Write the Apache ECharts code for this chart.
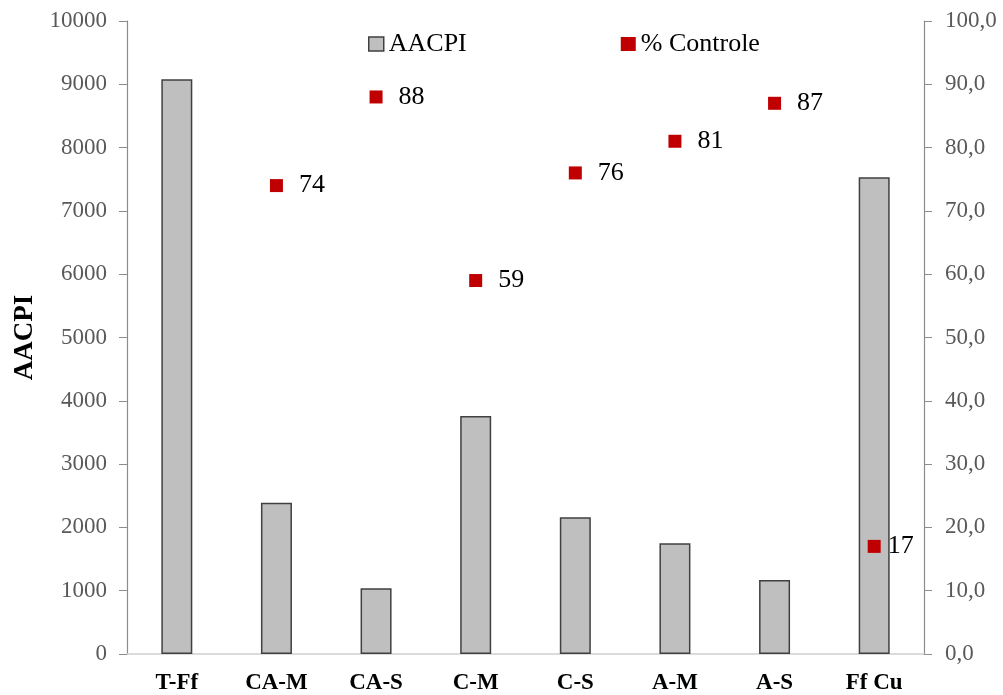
<!DOCTYPE html>
<html>
<head>
<meta charset="utf-8">
<title>AACPI e % Controle</title>
<script src="https://cdn.jsdelivr.net/npm/echarts@6/dist/echarts.min.js"></script>
<style>
  html, body { margin: 0; padding: 0; background: #fff; }
  #chart { width: 1003px; height: 695px; }
</style>
</head>
<body>
<div id="chart"></div>
<script>
// Treatments on the category axis
const categories = ['T-Ff', 'CA-M', 'CA-S', 'C-M', 'C-S', 'A-M', 'A-S', 'Ff Cu'];
// Area under the disease progress curve (left axis)
const aacpi = [9080, 2390, 1040, 3760, 2160, 1750, 1170, 7530];
// Percent control (right axis)
const controle = [null, 74, 88, 59, 76, 81, 87, 17];

const serif = '"Liberation Serif", "Times New Roman", serif';
const tickGrey = '#595959';
const axisGrey = '#8c8c8c';

// The last label sits closer to its marker, over the tall bar
const controlePoints = controle.map((v, i) =>
  i === controle.length - 1 ? { value: v, label: { distance: 7 } } : v
);

const chart = echarts.init(document.getElementById('chart'));
chart.setOption({
  animation: false,
  textStyle: { fontFamily: serif },
  grid: { left: 127, right: 79, top: 21, bottom: 41, containLabel: false },
  legend: {
    left: 363, top: 26,
    itemGap: 154,
    itemWidth: 15, itemHeight: 14,
    textStyle: { fontFamily: serif, fontSize: 26, color: '#000' },
    data: [
      { name: 'AACPI', icon: 'rect', itemStyle: { color: '#bfbfbf', borderColor: '#404040', borderWidth: 1.5 } },
      { name: '% Controle', icon: 'rect', itemStyle: { color: '#c00000', opacity: 1 } }
    ]
  },
  xAxis: {
    type: 'category',
    data: categories,
    axisLine: { lineStyle: { color: '#d0d0d0', width: 1.5 } },
    axisTick: { show: false },
    axisLabel: { fontFamily: serif, fontSize: 23, fontWeight: 'bold', color: '#000', margin: 18 }
  },
  yAxis: [
    {
      type: 'value', min: 0, max: 10000, interval: 1000,
      name: 'AACPI', nameLocation: 'middle', nameGap: 88, nameRotate: 90,
      nameTextStyle: { fontFamily: serif, fontSize: 27, fontWeight: 'bold', color: '#000' },
      axisLine: { show: true, lineStyle: { color: axisGrey, width: 1.2 } },
      axisTick: { show: true, length: 8, lineStyle: { color: axisGrey } },
      axisLabel: { fontFamily: serif, fontSize: 23, color: tickGrey, margin: 20, formatter: v => String(v) },
      splitLine: { show: false }
    },
    {
      type: 'value', min: 0, max: 100, interval: 10, position: 'right',
      axisLine: { show: true, lineStyle: { color: axisGrey, width: 1.2 } },
      axisTick: { show: true, length: 8, lineStyle: { color: axisGrey } },
      axisLabel: {
        fontFamily: serif, fontSize: 23, color: tickGrey, margin: 21,
        formatter: v => v.toFixed(1).replace('.', ',')
      },
      splitLine: { show: false }
    }
  ],
  series: [
    {
      name: 'AACPI', type: 'bar', yAxisIndex: 0,
      data: aacpi, barWidth: 31,
      itemStyle: { color: '#bfbfbf', borderColor: '#404040', borderWidth: 1.5 }
    },
    {
      name: '% Controle', type: 'scatter', yAxisIndex: 1,
      data: controlePoints, symbol: 'rect', symbolSize: 13,
      itemStyle: { color: '#c00000', opacity: 1 },
      label: {
        show: true, position: 'right', distance: 16,
        fontFamily: serif, fontSize: 26, color: '#000',
        formatter: p => String(p.value)
      },
      z: 5
    }
  ]
});
</script>
</body>
</html>
